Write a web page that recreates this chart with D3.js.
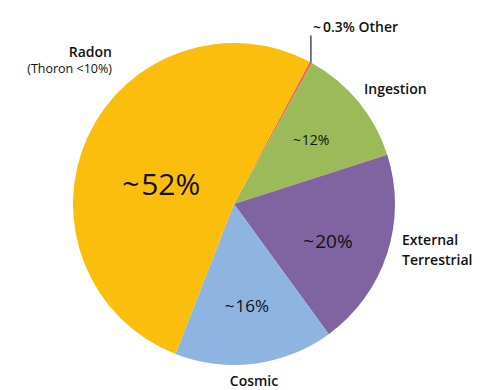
<!DOCTYPE html>
<html>
<head>
<meta charset="utf-8">
<script src="https://cdn.jsdelivr.net/npm/d3@7"></script>
<style>
  html, body { margin: 0; padding: 0; background: #fff; }
  svg { display: block; }
  text { font-family: "Open Sans", "Noto Sans", sans-serif; fill: #111; }
</style>
</head>
<body>
<svg id="chart" width="490" height="390"></svg>
<script>
// Sources of radiation dose, in percent (clockwise from the thin "Other" wedge)
const sources = ["Other", "Ingestion", "External Terrestrial", "Cosmic", "Radon"];
const shares  = [0.3, 12, 20, 16, 52];
const colors  = ["#e0784e", "#9bbb59", "#8064a2", "#8eb4e2", "#fbbe0c"];
const insideLabels = ["", "12%", "20%", "16%", "52%"];

const svg = d3.select("#chart");
const cx = 234, cy = 204, R = 161;
const startDeg = 28;

const data = sources.map((s, i) => ({ source: s, value: shares[i], color: colors[i], label: insideLabels[i] }));

const pie = d3.pie()
  .sort(null)
  .value(d => d.value)
  .startAngle(startDeg * Math.PI / 180)
  .endAngle(startDeg * Math.PI / 180 + 2 * Math.PI);

const arcs = pie(data);
const arc = d3.arc().innerRadius(0).outerRadius(R);

const g = svg.append("g").attr("transform", `translate(${cx},${cy})`);

g.selectAll("path.slice")
  .data(arcs)
  .join("path")
  .attr("class", "slice")
  .attr("d", arc)
  .attr("fill", d => d.data.color);

// percentage labels inside slices: radius fraction, nudge and font size per slice
const labelStyle = {
  "Ingestion":            { r: 0.62, dx: 0,  dy: -1, size: 14 },
  "External Terrestrial": { r: 0.62, dx: -1, dy: 6,  size: 19 },
  "Cosmic":               { r: 0.63, dx: 0,  dy: 1,  size: 17 },
  "Radon":                { r: 0.47, dx: -4, dy: 12, size: 30 }
};
const labelPos = d => {
  const s = labelStyle[d.data.source];
  const a = d3.arc().innerRadius(R * s.r).outerRadius(R * s.r);
  const [x, y] = a.centroid(d);
  return [x + s.dx, y + s.dy];
};

const pct = g.selectAll("text.pct")
  .data(arcs.filter(d => d.data.label))
  .join("text")
  .attr("class", "pct")
  .attr("transform", d => `translate(${labelPos(d)})`)
  .attr("text-anchor", "middle")
  .attr("dy", "0.36em")
  .attr("font-size", d => labelStyle[d.data.source].size);
pct.append("tspan").text("~");
pct.append("tspan").attr("dx", d => labelStyle[d.data.source].size * 0.06).text(d => d.data.label);

// outer category labels
const other = arcs[0];
const otherAngle = (other.startAngle + other.endAngle) / 2;
const ox = R * Math.sin(otherAngle), oy = -R * Math.cos(otherAngle);
g.append("line")
  .attr("x1", ox).attr("y1", oy)
  .attr("x2", ox).attr("y2", oy - 27)
  .attr("stroke", "#222").attr("stroke-width", 1.2);
const ot = g.append("text")
  .attr("x", ox + 2).attr("y", oy - 31)
  .attr("font-size", 14).attr("font-weight", 600);
ot.append("tspan").text("~");
ot.append("tspan").attr("dx", 2).text("0.3% " + sources[0]);

svg.append("text").attr("x", 112).attr("y", 57).attr("text-anchor", "end")
  .attr("font-size", 14).attr("font-weight", 600).text(sources[4]);
svg.append("text").attr("x", 112).attr("y", 73).attr("text-anchor", "end")
  .attr("font-size", 12.5).text("(Thoron <10%)");

svg.append("text").attr("x", 364).attr("y", 94)
  .attr("font-size", 14).attr("font-weight", 600).text(sources[1]);

const ext = svg.append("text").attr("x", 402).attr("y", 245)
  .attr("font-size", 14).attr("font-weight", 600);
ext.append("tspan").attr("x", 402).text("External");
ext.append("tspan").attr("x", 402).attr("dy", 20).text("Terrestrial");

svg.append("text").attr("x", 254).attr("y", 386).attr("text-anchor", "middle")
  .attr("font-size", 14).attr("font-weight", 600).text(sources[3]);
</script>
</body>
</html>
